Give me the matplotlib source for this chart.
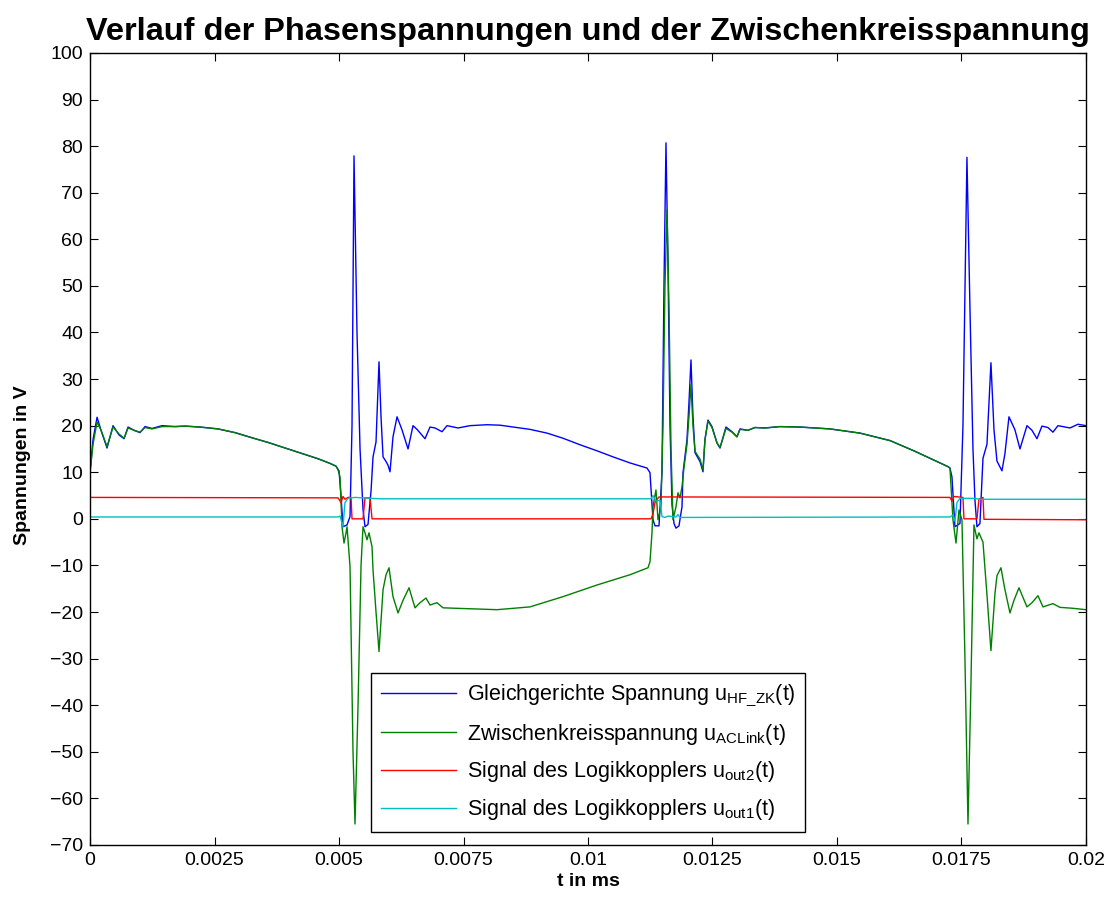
import numpy as np
import matplotlib
matplotlib.use("Agg")
import matplotlib.pyplot as plt

plt.rcParams['font.family'] = ['Liberation Sans', 'DejaVu Sans']
plt.rcParams['mathtext.fontset'] = 'custom'
plt.rcParams['mathtext.rm'] = 'Liberation Sans'
plt.rcParams['mathtext.it'] = 'Liberation Sans'

# --- data (time in s, voltage in V) ---
t_hf = [0, 0.00006, 0.000141, 0.000221, 0.000341, 0.000462, 0.000582, 0.000683, 0.000763,
        0.000884, 0.001004, 0.001104, 0.001245, 0.001446, 0.001707, 0.001908, 0.002209,
        0.00257, 0.002912, 0.003253, 0.003574, 0.003916, 0.004257, 0.004578, 0.004819,
        0.00494, 0.005, 0.00504, 0.00508, 0.005161, 0.005221, 0.005261, 0.005301, 0.005361,
        0.005422, 0.005482, 0.005522, 0.005582, 0.005643, 0.005683, 0.005743, 0.005803,
        0.005843, 0.005884, 0.005944, 0.005984, 0.006024, 0.006084, 0.006165, 0.006265,
        0.006386, 0.006486, 0.006566, 0.006727, 0.006827, 0.006928, 0.007068, 0.007169,
        0.00739, 0.007631, 0.007972, 0.008233, 0.008494, 0.008835, 0.009177, 0.009498,
        0.009839, 0.010181, 0.010502, 0.010843, 0.011185, 0.011245, 0.011285, 0.011305,
        0.011345, 0.011426, 0.011486, 0.011526, 0.011566, 0.011606, 0.011647, 0.011687,
        0.011727, 0.011767, 0.011827, 0.011888, 0.011908, 0.011988, 0.012028, 0.012068,
        0.012108, 0.012149, 0.012249, 0.012309, 0.012349, 0.01241, 0.01249, 0.01259,
        0.012651, 0.012771, 0.012892, 0.012992, 0.013052, 0.013213, 0.013353, 0.013554,
        0.013855, 0.014257, 0.014859, 0.015462, 0.016064, 0.016566, 0.016968, 0.017229,
        0.017269, 0.017309, 0.017369, 0.01747, 0.01753, 0.01761, 0.017671, 0.017731,
        0.017771, 0.017811, 0.017871, 0.017932, 0.018012, 0.018092, 0.018153, 0.018213,
        0.018313, 0.018373, 0.018454, 0.018574, 0.018675, 0.018815, 0.018916, 0.019016,
        0.019116, 0.019237, 0.019337, 0.019438, 0.019679, 0.019839, 0.02]
u_hf = [10.0, 17.0, 21.8, 19.0, 15.2, 20.0, 18.0, 17.2, 19.7,
        19.0, 18.5, 19.8, 19.4, 20.0, 19.8, 19.9, 19.7,
        19.3, 18.5, 17.4, 16.4, 15.2, 14.0, 12.9, 11.9,
        11.3, 10.3, 5.0, -1.7, -1.3, 0.5, 20.0, 77.9, 40.0,
        15.0, 2.0, -1.7, -1.2, 6.0, 13.3, 16.5, 33.7,
        22.0, 13.3, 12.3, 11.5, 10.1, 17.6, 21.9, 19.1,
        15.0, 20.0, 19.2, 17.2, 19.7, 19.5, 18.7, 20.0,
        19.5, 20.0, 20.2, 20.1, 19.7, 19.2, 18.4, 17.3,
        15.9, 14.6, 13.3, 12.0, 10.9, 9.9, 3.0, -0.2,
        -1.5, -1.5, 10.0, 50.0, 80.7, 55.0, 20.0, 3.0,
        -1.0, -2.0, -1.5, 2.6, 9.9, 17.0, 25.0, 34.1,
        22.0, 14.2, 12.3, 10.1, 17.0, 21.2, 19.8, 16.3,
        15.2, 19.7, 18.7, 17.6, 19.3, 19.0, 19.6, 19.5,
        19.8, 19.7, 19.3, 18.4, 16.8, 14.5, 12.5, 11.2,
        10.9, 9.0, -1.7, -1.0, 20.0, 77.6, 45.0, 15.0,
        4.0, -1.7, -1.0, 13.0, 16.0, 33.5, 19.1, 12.4,
        10.3, 14.0, 21.9, 19.1, 15.0, 20.0, 19.0, 17.2,
        19.9, 19.6, 18.6, 20.0, 19.5, 20.3, 20.0]

t_ac = [0, 0.00006, 0.000141, 0.000221, 0.000341, 0.000462, 0.000582, 0.000683, 0.000763,
        0.000884, 0.001004, 0.001104, 0.001245, 0.001446, 0.001707, 0.001908, 0.002209,
        0.00257, 0.002912, 0.003253, 0.003574, 0.003916, 0.004257, 0.004578, 0.004819,
        0.00494, 0.00498, 0.00502, 0.00506, 0.0051, 0.005141, 0.005161, 0.005221, 0.005281,
        0.005321, 0.005382, 0.005442, 0.005482, 0.005522, 0.005562, 0.005602, 0.005663,
        0.005683, 0.005743, 0.005803, 0.005843, 0.005884, 0.005944, 0.006004, 0.006084,
        0.006185, 0.006285, 0.006406, 0.006526, 0.006627, 0.006747, 0.006827, 0.006968,
        0.007088, 0.007631, 0.008173, 0.008835, 0.009498, 0.010181, 0.010843, 0.011205,
        0.011245, 0.011285, 0.011305, 0.011365, 0.011406, 0.011466, 0.011506, 0.011546,
        0.011586, 0.011627, 0.011667, 0.011707, 0.011767, 0.011807, 0.011847, 0.011888,
        0.011928, 0.011988, 0.012028, 0.012068, 0.012108, 0.012149, 0.012249, 0.012309,
        0.012349, 0.01241, 0.01249, 0.01259, 0.012651, 0.012771, 0.012892, 0.012992,
        0.013052, 0.013213, 0.013353, 0.013554, 0.013855, 0.014257, 0.014859, 0.015462,
        0.016064, 0.016566, 0.016968, 0.017229, 0.017269, 0.017329, 0.01739, 0.01745,
        0.01751, 0.01757, 0.017631, 0.017691, 0.017751, 0.017811, 0.017851, 0.017932,
        0.018012, 0.018092, 0.018173, 0.018213, 0.018293, 0.018373, 0.018474, 0.018554,
        0.018655, 0.018815, 0.018916, 0.019036, 0.019137, 0.019337, 0.019478, 0.019739,
        0.02]
u_ac = [10.0, 16.0, 20.8, 19.0, 15.5, 19.7, 18.2, 17.3, 19.5,
        19.0, 18.6, 19.6, 19.3, 19.8, 19.8, 19.9, 19.7,
        19.3, 18.5, 17.4, 16.4, 15.2, 14.0, 12.9, 11.9,
        11.3, 10.5, 9.0, -1.7, -5.2, -3.0, -1.7, -10.3, -50.0,
        -65.5, -40.0, -10.0, -1.7, -3.0, -4.5, -3.0, -6.0,
        -11.0, -20.0, -28.5, -22.0, -15.2, -12.0, -10.5, -16.7,
        -20.2, -17.5, -14.8, -19.1, -18.0, -17.0, -18.5, -18.0,
        -19.1, -19.3, -19.5, -18.9, -16.7, -14.2, -12.0, -10.5,
        -9.2, -3.0, 2.6, 6.2, -0.2, 2.6, 20.0, 50.0,
        66.3, 45.0, 15.0, -0.2, 2.6, 5.6, 4.5, 6.9,
        11.0, 16.0, 22.0, 28.8, 20.0, 14.5, 12.8, 10.5,
        17.0, 21.0, 19.6, 16.3, 15.3, 19.4, 18.6, 17.6,
        19.2, 19.0, 19.6, 19.5, 19.8, 19.7, 19.3, 18.4,
        16.8, 14.5, 12.5, 11.2, 10.9, -0.2, -5.2, 1.9,
        -0.2, -30.0, -65.5, -35.0, -1.3, -4.3, -3.0, -5.0,
        -16.3, -28.3, -16.0, -12.2, -10.5, -15.2, -20.2, -17.5,
        -14.8, -18.9, -18.0, -16.5, -18.9, -18.2, -19.0, -19.2,
        -19.5]

t_out2 = [0, 0.00498, 0.00504, 0.00508, 0.00512, 0.005181, 0.005241, 0.005261, 0.005482,
          0.005522, 0.005622, 0.005663, 0.011265, 0.011305, 0.011345, 0.011386, 0.011426,
          0.017269, 0.017309, 0.017349, 0.01753, 0.01755, 0.017811, 0.017851, 0.017932,
          0.017952, 0.02]
u_out2 = [4.6, 4.5, 3.5, 4.8, 4.2, 4.6, 4.6, 0.0, 0.0,
          4.5, 4.5, 0.0, 0.0, 1.0, 3.5, 4.2, 4.7,
          4.6, 3.8, 4.8, 4.6, 0.0, 0.0, 4.2, 4.6,
          -0.1, -0.2]

t_out1 = [0, 0.00498, 0.00502, 0.00508, 0.00512, 0.005181, 0.005321, 0.005823, 0.011265,
          0.011305, 0.011365, 0.011446, 0.011486, 0.011546, 0.011606, 0.011767, 0.011807,
          0.011847, 0.017269, 0.017329, 0.017369, 0.01741, 0.01747, 0.017771, 0.017871,
          0.02]
u_out1 = [0.4, 0.4, 0.6, -1.7, 3.5, 4.4, 4.6, 4.3, 4.3,
          5.0, 3.8, 4.0, 0.5, 0.3, 0.6, 0.4, 0.9,
          0.3, 0.4, 0.8, -0.5, 3.5, 4.4, 4.4, 4.2,
          4.2]

labels = [r'Gleichgerichte Spannung u$_{\mathregular{HF\_ZK}}$(t)',
          r'Zwischenkreisspannung u$_{\mathregular{ACLink}}$(t)',
          r'Signal des Logikkopplers u$_{\mathregular{out2}}$(t)',
          r'Signal des Logikkopplers u$_{\mathregular{out1}}$(t)']
colors = ['#0000ff', '#008000', '#ff0000', '#00bfbf']

xticks = [0, 0.0025, 0.005, 0.0075, 0.01, 0.0125, 0.015, 0.0175, 0.02]
xticklabels = ['0', '0.0025', '0.005', '0.0075', '0.01', '0.0125', '0.015', '0.0175', '0.02']
yticks = np.arange(-70, 101, 10)

fig = plt.figure(figsize=(11.13, 8.97), dpi=100)
ax = fig.add_axes([0.0809, 0.058, 0.8948, 0.883])

series = [(t_hf, u_hf), (t_ac, u_ac), (t_out2, u_out2), (t_out1, u_out1)]
for (t, u), lab, c in zip(series, labels, colors):
    ax.plot(t, u, color=c, lw=1.0, label=lab)

ax.set_xlim(0, 0.02)
ax.set_ylim(-70, 100)
ax.set_xticks(xticks)
ax.set_xticklabels(xticklabels)
ax.set_yticks(yticks)
ax.tick_params(direction='in', length=6, width=0.8, top=True, right=True,
               labelsize=14, pad=5)
for s in ax.spines.values():
    s.set_linewidth(1.0)

ax.set_xlabel('t in ms', fontsize=14, fontweight='bold', labelpad=3)
ax.set_ylabel('Spannungen in V', fontsize=14, fontweight='bold')
ax.yaxis.set_label_coords(-0.059, 0.48)
ax.set_title('Verlauf der Phasenspannungen und der Zwischenkreisspannung',
             fontsize=23.4, fontweight='bold', pad=9)

leg = ax.legend(loc='lower center', fontsize=15.5, handlelength=3.5, frameon=True,
                fancybox=False, framealpha=1, edgecolor='black', borderaxespad=0.6,
                labelspacing=0.6, handletextpad=0.5, borderpad=0.45)
leg.get_frame().set_linewidth(1.0)

fig.savefig('out.png', dpi=100)
